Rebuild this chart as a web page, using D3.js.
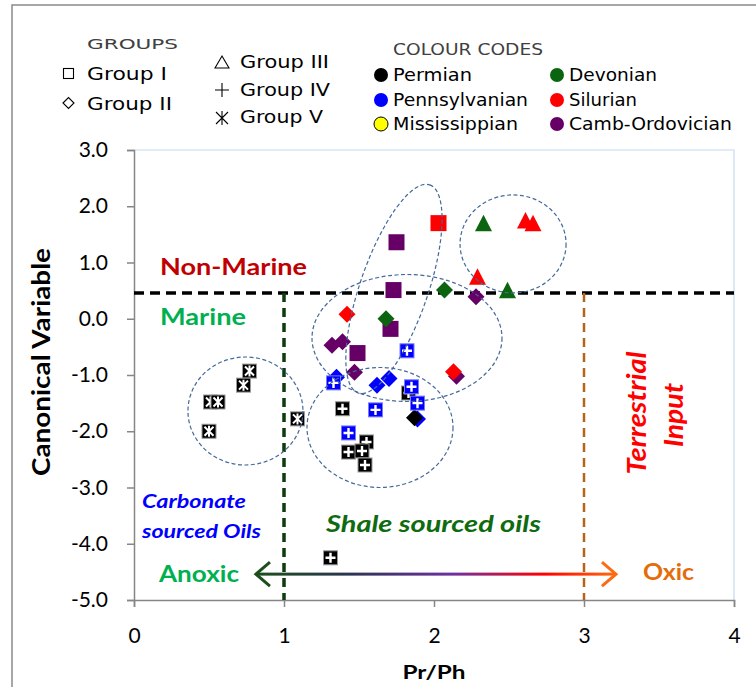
<!DOCTYPE html>
<html>
<head>
<meta charset="utf-8">
<script src="https://cdn.jsdelivr.net/npm/d3@7"></script>
<style>
  body { margin: 0; background: #fff; }
  svg { display: block; }
</style>
</head>
<body>
<div id="chart"></div>
<script>
// ---- data ----
var periods = ["Permian", "Pennsylvanian", "Mississippian", "Devonian", "Silurian", "Camb-Ordovician"];
var periodColours = ["#000000", "#0000ff", "#ffff00", "#0b6410", "#ff0000", "#660066"];
var groupNames = ["Group I", "Group II", "Group III", "Group IV", "Group V"];

// Group I (squares)
var g1PrPh  = [1.73, 1.71, 1.49, 1.75, 2.03];
var g1Canon = [0.51, -0.18, -0.61, 1.36, 1.70];
var g1Age   = ["Camb-Ordovician", "Camb-Ordovician", "Camb-Ordovician", "Camb-Ordovician", "Silurian"];

// Group II (diamonds)
var g2PrPh  = [1.42, 1.68, 1.32, 1.39, 1.47, 1.35, 1.62, 1.70, 2.15, 2.13, 2.07, 2.28, 1.89, 1.87];
var g2Canon = [0.08, 0.00, -0.47, -0.41, -0.95, -1.04, -1.18, -1.06, -1.02, -0.94, 0.51, 0.39, -1.78, -1.76];
var g2Age   = ["Silurian", "Devonian", "Camb-Ordovician", "Camb-Ordovician", "Camb-Ordovician",
               "Pennsylvanian", "Pennsylvanian", "Pennsylvanian", "Camb-Ordovician", "Silurian",
               "Devonian", "Camb-Ordovician", "Pennsylvanian", "Permian"];

// Group III (triangles)
var g3PrPh  = [2.33, 2.61, 2.66, 2.29, 2.49];
var g3Canon = [1.67, 1.72, 1.67, 0.72, 0.48];
var g3Age   = ["Devonian", "Silurian", "Silurian", "Silurian", "Devonian"];

// Group IV (plus)
var g4PrPh  = [1.39, 1.83, 1.55, 1.43, 1.52, 1.54, 1.31, 1.61, 1.89, 1.85, 1.43, 1.82, 1.33];
var g4Canon = [-1.60, -1.32, -2.19, -2.37, -2.35, -2.60, -4.25, -1.62, -1.50, -1.21, -2.03, -0.57, -1.14];
var g4Age   = ["Permian", "Permian", "Permian", "Permian", "Permian", "Permian", "Permian",
               "Pennsylvanian", "Pennsylvanian", "Pennsylvanian", "Pennsylvanian", "Pennsylvanian", "Pennsylvanian"];

// Group V (asterisk)
var g5PrPh  = [0.77, 0.73, 0.51, 0.56, 0.50, 1.09];
var g5Canon = [-0.93, -1.18, -1.48, -1.48, -2.00, -1.78];
var g5Age   = ["Permian", "Permian", "Permian", "Permian", "Permian", "Permian"];

var xTicks = [0, 1, 2, 3, 4];
var yTicks = [-5, -4, -3, -2, -1, 0, 1, 2, 3];

// thresholds
var marineLimit = 0.46;
var anoxicLimit = 1;
var oxicLimit = 3;

// cluster outlines (centre in data units)
var clusterX = [0.743, 1.733, 1.82, 1.64, 2.527];
var clusterY = [-1.64, 0.53, -0.342, -1.933, 1.33];

// ---- chart ----
var W = 756, H = 687;
var svg = d3.select("#chart").append("svg")
    .attr("width", W).attr("height", H);

var x = d3.scaleLinear().domain([0, 4]).range([134, 734]);
var y = d3.scaleLinear().domain([-5, 3]).range([600, 150]);
var colour = d3.scaleOrdinal().domain(periods).range(periodColours);

// outer frame
svg.append("path").attr("d", "M12,687V5H760").attr("fill", "none")
   .attr("stroke", "#8a8a8a").attr("stroke-width", 1.5);

// plot frame (top / right)
svg.append("path")
   .attr("d", "M" + x(0) + "," + y(3) + "H" + x(4) + "V" + y(-5))
   .attr("fill", "none").attr("stroke", "#c6d9f0").attr("stroke-width", 1.2);

// axes
var yAxis = svg.append("g").attr("transform", "translate(" + x(0) + ",0)")
  .call(d3.axisLeft(y).tickValues(yTicks).tickSize(7).tickPadding(19)
        .tickFormat(function(d) { return d.toFixed(1); }));
var xAxis = svg.append("g").attr("transform", "translate(0," + y(-5) + ")")
  .call(d3.axisBottom(x).tickValues(xTicks).tickSize(7).tickPadding(21)
        .tickFormat(function(d) { return d; }));
[yAxis, xAxis].forEach(function(a) {
  a.select(".domain").attr("stroke", "#868686").attr("stroke-width", 1.5);
  a.selectAll(".tick line").attr("stroke", "#868686").attr("stroke-width", 1.5);
  a.selectAll("text").attr("font-family", "Lato").attr("font-size", 21).attr("fill", "#000");
});

// dashed threshold lines
svg.append("line")
   .attr("x1", x(0)).attr("x2", x(4)).attr("y1", y(marineLimit)).attr("y2", y(marineLimit))
   .attr("stroke", "#000").attr("stroke-width", 3.5).attr("stroke-dasharray", "10,6");
svg.append("line")
   .attr("x1", x(anoxicLimit)).attr("x2", x(anoxicLimit)).attr("y1", y(marineLimit)).attr("y2", y(-5))
   .attr("stroke", "#0d3d0d").attr("stroke-width", 3.5).attr("stroke-dasharray", "9,6");
svg.append("line")
   .attr("x1", x(oxicLimit)).attr("x2", x(oxicLimit)).attr("y1", y(marineLimit)).attr("y2", y(-5))
   .attr("stroke", "#b8631a").attr("stroke-width", 2.5).attr("stroke-dasharray", "9,6");

// redox arrow
var ax0 = x(0.813), ax1 = x(3.213), ay = y(-4.54);
var grad = svg.append("defs").append("linearGradient").attr("id", "redox")
   .attr("gradientUnits", "userSpaceOnUse")
   .attr("x1", ax0).attr("x2", ax1).attr("y1", 0).attr("y2", 0);
grad.append("stop").attr("offset", "0%").attr("stop-color", "#1c4f1c");
grad.append("stop").attr("offset", "25%").attr("stop-color", "#2a3550");
grad.append("stop").attr("offset", "55%").attr("stop-color", "#7030a0");
grad.append("stop").attr("offset", "80%").attr("stop-color", "#ff0000");
grad.append("stop").attr("offset", "100%").attr("stop-color", "#ff6a10");
svg.append("rect").attr("x", ax0 + 2).attr("y", ay - 1.5).attr("width", ax1 - ax0 - 4).attr("height", 3)
   .attr("fill", "url(#redox)");
svg.append("polyline").attr("points", [[ax0 + 14, ay - 12], [ax0, ay], [ax0 + 14, ay + 12]].join(" "))
   .attr("fill", "none").attr("stroke", "#1c4f1c").attr("stroke-width", 3);
svg.append("polyline").attr("points", [[ax1 - 14, ay - 12], [ax1, ay], [ax1 - 14, ay + 12]].join(" "))
   .attr("fill", "none").attr("stroke", "#ff6a10").attr("stroke-width", 3);

// text helper
function label(txt, px, py, o) {
  var t = svg.append("text").text(txt)
    .attr("font-family", o.family || "Lato")
    .attr("font-size", o.size)
    .attr("font-weight", o.weight || "normal")
    .attr("font-style", o.style || "normal")
    .attr("fill", o.fill || "#000")
    .attr("text-anchor", o.anchor || "start");
  if (o.rotate) {
    t.attr("transform", "translate(" + px + "," + py + ") rotate(" + o.rotate + ")");
  } else {
    t.attr("x", px).attr("y", py);
  }
  if (o.len) t.attr("textLength", o.len).attr("lengthAdjust", "spacingAndGlyphs");
  return t;
}

// axis titles
label("Canonical Variable", 50, 362, {size: 25, weight: "bold", anchor: "middle", rotate: -90, len: 228});
label("Pr/Ph", 434, 679, {size: 18, weight: "bold", anchor: "middle", len: 63});

// annotations
label("Non-Marine", 160, 275, {size: 23, weight: "bold", fill: "#c00000", len: 147});
label("Marine", 160, 325, {size: 23, weight: "bold", fill: "#00b050", len: 86});
label("Terrestrial", 646, 413, {size: 26, weight: "bold", style: "italic", fill: "#ff0000", anchor: "middle", rotate: -90, len: 123});
label("Input", 683, 415, {size: 26, weight: "bold", style: "italic", fill: "#ff0000", anchor: "middle", rotate: -90, len: 64});
label("Carbonate", 142, 508, {size: 18, weight: "bold", style: "italic", fill: "#0000ff", len: 104});
label("sourced Oils", 142, 538, {size: 18, weight: "bold", style: "italic", fill: "#0000ff", len: 119});
label("Shale sourced oils", 326, 532, {size: 22, weight: "bold", style: "italic", fill: "#0f6b0f", len: 215});
label("Anoxic", 159, 582, {size: 23, weight: "bold", fill: "#00b050", len: 80});
label("Oxic", 643, 580, {size: 23, weight: "bold", fill: "#e46c0a", len: 51});

// ---- legends ----
var lf = "DejaVu Sans";
label("GROUPS", 87, 49, {family: lf, size: 14, fill: "#404040", len: 91});
label("Group I", 87, 80, {family: lf, size: 17, len: 80});
label("Group II", 87, 110, {family: lf, size: 17, len: 85});
label("Group III", 240, 68, {family: lf, size: 17, len: 89});
label("Group IV", 240, 96, {family: lf, size: 17, len: 90});
label("Group V", 240, 123, {family: lf, size: 17, len: 83});

var sym = svg.append("g").attr("fill", "none").attr("stroke", "#000").attr("stroke-width", 1.1);
sym.append("rect").attr("x", 63.5).attr("y", 68.5).attr("width", 10).attr("height", 10);
sym.append("path").attr("d", "M63,103l5.5,-5.5l5.5,5.5l-5.5,5.5z");
sym.append("path").attr("d", "M215,68l7,-12l7,12z");
sym.append("path").attr("d", "M215,90h14M222,83v14");
sym.append("path").attr("d", "M216,112l12,12M228,112l-12,12M222,111v14");

label("COLOUR CODES", 393, 55, {family: lf, size: 15, fill: "#404040", len: 150});
var legX = [381, 381, 381, 557, 557, 557];
var legY = [75, 100, 124, 75, 100, 124];
var legLen = [79, 135, 125, 88, 68, 163];
periods.forEach(function(p, i) {
  svg.append("circle").attr("cx", legX[i]).attr("cy", legY[i]).attr("r", 7)
     .attr("fill", colour(p)).attr("stroke", p === "Mississippian" ? "#000" : "none");
  label(p, legX[i] + 12, legY[i] + 6, {family: lf, size: 17, len: legLen[i]});
});

// ---- points ----
function pts(px, py, age, g) {
  return px.map(function(d, i) { return {x: d, y: py[i], age: age[i], group: g}; });
}
var data = [].concat(
  pts(g1PrPh, g1Canon, g1Age, 1),
  pts(g2PrPh, g2Canon, g2Age, 2),
  pts(g3PrPh, g3Canon, g3Age, 3),
  pts(g4PrPh, g4Canon, g4Age, 4),
  pts(g5PrPh, g5Canon, g5Age, 5)
);

var marks = svg.append("g").selectAll("g").data(data).enter().append("g")
  .attr("transform", function(d) { return "translate(" + x(d.x) + "," + y(d.y) + ")"; });

marks.each(function(d) {
  var m = d3.select(this), c = colour(d.age);
  if (d.group === 1) {
    m.append("rect").attr("x", -8).attr("y", -8).attr("width", 16).attr("height", 16).attr("fill", c);
  } else if (d.group === 2) {
    m.append("path").attr("d", "M0,-8.5L8.5,0L0,8.5L-8.5,0Z").attr("fill", c);
  } else if (d.group === 3) {
    m.append("path").attr("d", "M0,-10L8.5,6.5L-8.5,6.5Z").attr("fill", c);
  } else if (d.group === 4) {
    m.append("rect").attr("x", -7).attr("y", -7).attr("width", 14).attr("height", 14)
     .attr("fill", c).attr("stroke", d.age === "Permian" ? "#9a9a9a" : "#7a7aff").attr("stroke-width", 1);
    m.append("path").attr("d", "M-5,0H5M0,-5V5").attr("stroke", "#fff").attr("stroke-width", 2.4);
  } else {
    m.append("rect").attr("x", -7).attr("y", -7).attr("width", 14).attr("height", 14)
     .attr("fill", c).attr("stroke", "#9a9a9a").attr("stroke-width", 1);
    m.append("path").attr("d", "M-4.5,-4.5L4.5,4.5M4.5,-4.5L-4.5,4.5M0,-5.5V5.5")
     .attr("stroke", "#fff").attr("stroke-width", 2);
  }
});

// cluster outlines
var clusterRx = [57.5, 110, 95, 73, 53];
var clusterRy = [54, 34, 63.5, 60, 49];
var clusterRot = [0, -71, 0, 0, 0];
svg.append("g").selectAll("ellipse").data(clusterX).enter().append("ellipse")
  .attr("transform", function(d, i) {
    return "translate(" + x(d) + "," + y(clusterY[i]) + ") rotate(" + clusterRot[i] + ")";
  })
  .attr("rx", function(d, i) { return clusterRx[i]; })
  .attr("ry", function(d, i) { return clusterRy[i]; })
  .attr("fill", "none").attr("stroke", "#44699a").attr("stroke-width", 1.2)
  .attr("stroke-dasharray", "4,2.5");
</script>
</body>
</html>
